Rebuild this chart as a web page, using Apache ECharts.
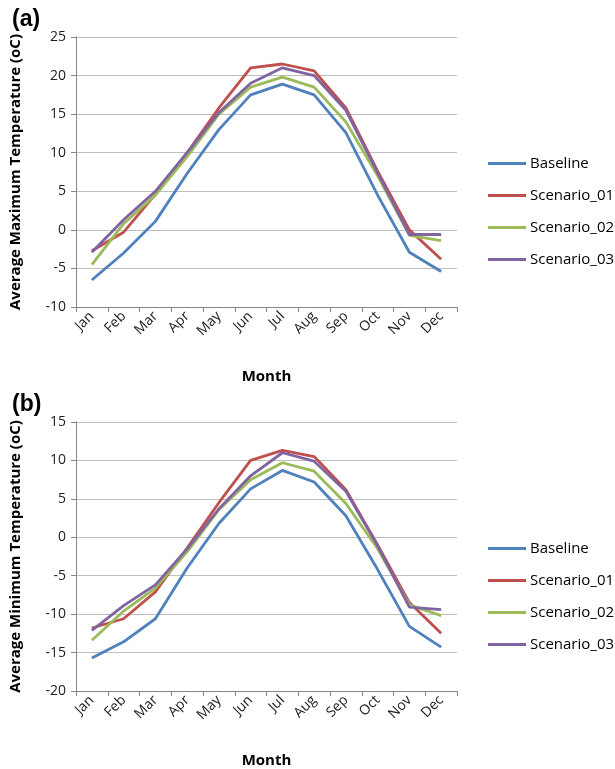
<!DOCTYPE html>
<html>
<head>
<meta charset="utf-8">
<style>
  html, body { margin: 0; padding: 0; background: #fff; }
  #chart { width: 615px; height: 769px; }
</style>
<script src="https://cdn.jsdelivr.net/npm/echarts@6/dist/echarts.min.js"></script>
</head>
<body>
<div id="chart"></div>
<script>
  // 月份
  var months = ['Jan', 'Feb', 'Mar', 'Apr', 'May', 'Jun', 'Jul', 'Aug', 'Sep', 'Oct', 'Nov', 'Dec'];
  var seriesNames = ['Baseline', 'Scenario_01', 'Scenario_02', 'Scenario_03'];
  var colors = ['#4F81BD', '#C0504D', '#9BBB59', '#8064A2'];

  // (a) 平均最高气温
  var maxBaseline = [-6.5, -3.0, 1.1, 7.3, 13.0, 17.5, 18.9, 17.5, 12.6, 4.5, -2.9, -5.4];
  var maxScen01   = [-2.7, -0.3, 4.6, 10.0, 15.8, 21.0, 21.5, 20.6, 15.8, 7.6, 0.0, -3.8];
  var maxScen02   = [-4.5, 0.8, 4.5, 9.5, 15.0, 18.5, 19.8, 18.5, 14.0, 7.0, -0.7, -1.4];
  var maxScen03   = [-2.9, 1.3, 5.0, 10.0, 15.2, 19.0, 21.0, 20.0, 15.5, 7.4, -0.6, -0.6];

  // (b) 平均最低气温
  var minBaseline = [-15.7, -13.6, -10.6, -4.0, 1.8, 6.3, 8.7, 7.2, 2.8, -4.2, -11.6, -14.3];
  var minScen01   = [-11.8, -10.6, -7.1, -1.4, 4.5, 10.0, 11.3, 10.5, 6.2, -1.0, -8.5, -12.5];
  var minScen02   = [-13.4, -9.6, -6.6, -1.9, 3.6, 7.5, 9.7, 8.6, 4.4, -1.5, -8.8, -10.2];
  var minScen03   = [-12.1, -8.9, -6.2, -1.5, 3.7, 8.0, 11.0, 9.9, 6.0, -1.1, -9.1, -9.4];

  var maxData = [maxBaseline, maxScen01, maxScen02, maxScen03];
  var minData = [minBaseline, minScen01, minScen02, minScen03];

  var fontFam = '"Open Sans", Lato, sans-serif';

  function makeX(idx) {
    return {
      type: 'category',
      gridIndex: idx,
      data: months,
      name: 'Month',
      nameLocation: 'middle',
      nameGap: 62,
      nameTextStyle: { fontFamily: fontFam, fontWeight: 'bold', fontSize: 15, color: '#000' },
      axisLine: { onZero: false, lineStyle: { color: '#868686', width: 1 } },
      axisTick: { show: true, length: 5, lineStyle: { color: '#868686' } },
      axisLabel: { rotate: 45, fontFamily: fontFam, fontSize: 14, color: '#222', margin: 7, interval: 0 },
      splitLine: { show: false }
    };
  }

  function makeY(idx, min, max, name) {
    return {
      type: 'value',
      gridIndex: idx,
      min: min,
      max: max,
      interval: 5,
      name: name,
      nameLocation: 'middle',
      nameGap: 53,
      nameTextStyle: { fontFamily: fontFam, fontWeight: 'bold', fontSize: 15, color: '#000' },
      axisLine: { show: true, lineStyle: { color: '#868686', width: 1 } },
      axisTick: { show: true, length: 5, lineStyle: { color: '#868686' } },
      axisLabel: { fontFamily: fontFam, fontSize: 14, color: '#222', margin: 10 },
      splitLine: { show: true, lineStyle: { color: '#BEBEBE', width: 1 } }
    };
  }

  var series = [];
  seriesNames.forEach(function (n, i) {
    series.push({
      name: n, type: 'line', xAxisIndex: 0, yAxisIndex: 0,
      data: maxData[i], symbol: 'none', smooth: false,
      lineStyle: { width: 2.8, color: colors[i] }, itemStyle: { color: colors[i] }
    });
  });
  seriesNames.forEach(function (n, i) {
    series.push({
      name: n, type: 'line', xAxisIndex: 1, yAxisIndex: 1,
      data: minData[i], symbol: 'none', smooth: false,
      lineStyle: { width: 2.8, color: colors[i] }, itemStyle: { color: colors[i] }
    });
  });

  function makeLegend(top) {
    return {
      data: seriesNames,
      orient: 'vertical',
      left: 483,
      top: top,
      itemWidth: 38,
      itemHeight: 3,
      itemGap: 17,
      icon: 'rect',
      textStyle: { fontFamily: fontFam, fontSize: 15, color: '#000', padding: [0, 0, 0, -1] },
      selectedMode: false
    };
  }

  var chart = echarts.init(document.getElementById('chart'), null, { renderer: 'canvas' });
  var option = {
    backgroundColor: '#fff',
    animation: false,
    title: [
      { text: '(a)', left: 7, top: 3, textStyle: { fontFamily: 'Liberation Sans, Arial, sans-serif', fontWeight: 'bold', fontSize: 23, color: '#000' } },
      { text: '(b)', left: 7, top: 388, textStyle: { fontFamily: 'Liberation Sans, Arial, sans-serif', fontWeight: 'bold', fontSize: 23, color: '#000' } }
    ],
    legend: [makeLegend(151), makeLegend(536)],
    grid: [
      { left: 72, top: 37, width: 385, height: 270 },
      { left: 72, top: 422, width: 385, height: 270 }
    ],
    xAxis: [makeX(0), makeX(1)],
    yAxis: [
      makeY(0, -10, 25, 'Average Maximum Temperature (oC)'),
      makeY(1, -20, 15, 'Average Minimum Temperature (oC)')
    ],
    series: series
  };
  chart.setOption(option);
</script>
</body>
</html>
